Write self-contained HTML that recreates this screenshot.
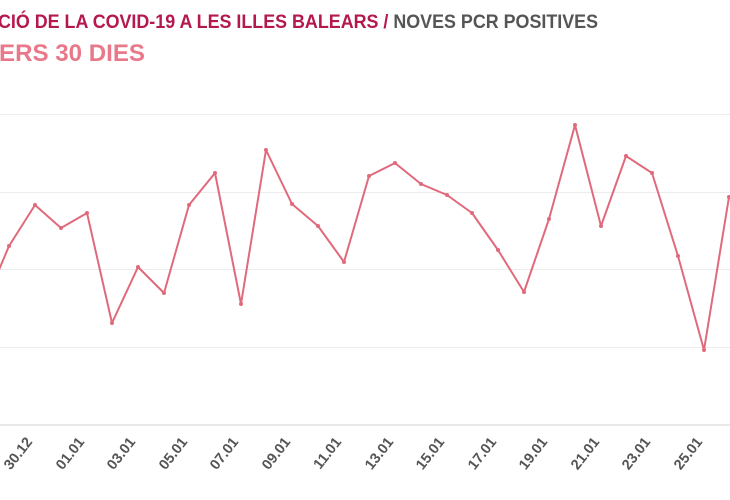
<!DOCTYPE html>
<html><head><meta charset="utf-8"><style>
html,body{margin:0;padding:0;background:#fff;width:730px;height:500px;overflow:hidden}
svg{display:block}
</style></head><body>
<svg width="730" height="500" xmlns="http://www.w3.org/2000/svg" font-family="Liberation Sans, sans-serif">
<text x="-2" y="28" font-size="19" font-weight="bold" textLength="600" lengthAdjust="spacingAndGlyphs"><tspan fill="#b5174f">CIÓ DE LA COVID-19 A LES ILLES BALEARS / </tspan><tspan fill="#555">NOVES PCR POSITIVES</tspan></text>
<text x="-1" y="61" font-size="24" font-weight="bold" fill="#e8788a" textLength="146" lengthAdjust="spacingAndGlyphs">ERS 30 DIES</text>
<g stroke="#ececec" stroke-width="1">
<line x1="0" y1="114.5" x2="730" y2="114.5"/>
<line x1="0" y1="192.5" x2="730" y2="192.5"/>
<line x1="0" y1="269.5" x2="730" y2="269.5"/>
<line x1="0" y1="347.5" x2="730" y2="347.5"/>
</g>
<line x1="0" y1="425" x2="730" y2="425" stroke="#d0d0d0" stroke-width="1"/>
<polyline fill="none" stroke="#e06a7b" stroke-width="2" stroke-linejoin="round" points="-17,308 9,246 35,205 61,228 87,213 112,323 138,267 164,293 189,205 215,173 241,304 266,150 292,204 318,226 344,262 369,176 395,163 421,184 447,195 472,213 498,250 524,292 549,219 575,125 601,226 626,156 652,173 678,256 704,350 729,197"/>
<g fill="#e06a7b">
<circle cx="9" cy="246" r="2"/><circle cx="35" cy="205" r="2"/><circle cx="61" cy="228" r="2"/><circle cx="87" cy="213" r="2"/><circle cx="112" cy="323" r="2"/><circle cx="138" cy="267" r="2"/><circle cx="164" cy="293" r="2"/><circle cx="189" cy="205" r="2"/><circle cx="215" cy="173" r="2"/><circle cx="241" cy="304" r="2"/><circle cx="266" cy="150" r="2"/><circle cx="292" cy="204" r="2"/><circle cx="318" cy="226" r="2"/><circle cx="344" cy="262" r="2"/><circle cx="369" cy="176" r="2"/><circle cx="395" cy="163" r="2"/><circle cx="421" cy="184" r="2"/><circle cx="447" cy="195" r="2"/><circle cx="472" cy="213" r="2"/><circle cx="498" cy="250" r="2"/><circle cx="524" cy="292" r="2"/><circle cx="549" cy="219" r="2"/><circle cx="575" cy="125" r="2"/><circle cx="601" cy="226" r="2"/><circle cx="626" cy="156" r="2"/><circle cx="652" cy="173" r="2"/><circle cx="678" cy="256" r="2"/><circle cx="704" cy="350" r="2"/><circle cx="729" cy="197" r="2"/>
</g>
<g fill="#555" font-size="14.5" font-weight="bold" text-anchor="end">
<text transform="translate(33,442) rotate(-52)">30.12</text>
<text transform="translate(85,442) rotate(-52)">01.01</text>
<text transform="translate(136,442) rotate(-52)">03.01</text>
<text transform="translate(188,442) rotate(-52)">05.01</text>
<text transform="translate(239,442) rotate(-52)">07.01</text>
<text transform="translate(291,442) rotate(-52)">09.01</text>
<text transform="translate(342,442) rotate(-52)">11.01</text>
<text transform="translate(394,442) rotate(-52)">13.01</text>
<text transform="translate(445,442) rotate(-52)">15.01</text>
<text transform="translate(497,442) rotate(-52)">17.01</text>
<text transform="translate(548,442) rotate(-52)">19.01</text>
<text transform="translate(600,442) rotate(-52)">21.01</text>
<text transform="translate(651,442) rotate(-52)">23.01</text>
<text transform="translate(703,442) rotate(-52)">25.01</text>
</g>
</svg>
</body></html>
